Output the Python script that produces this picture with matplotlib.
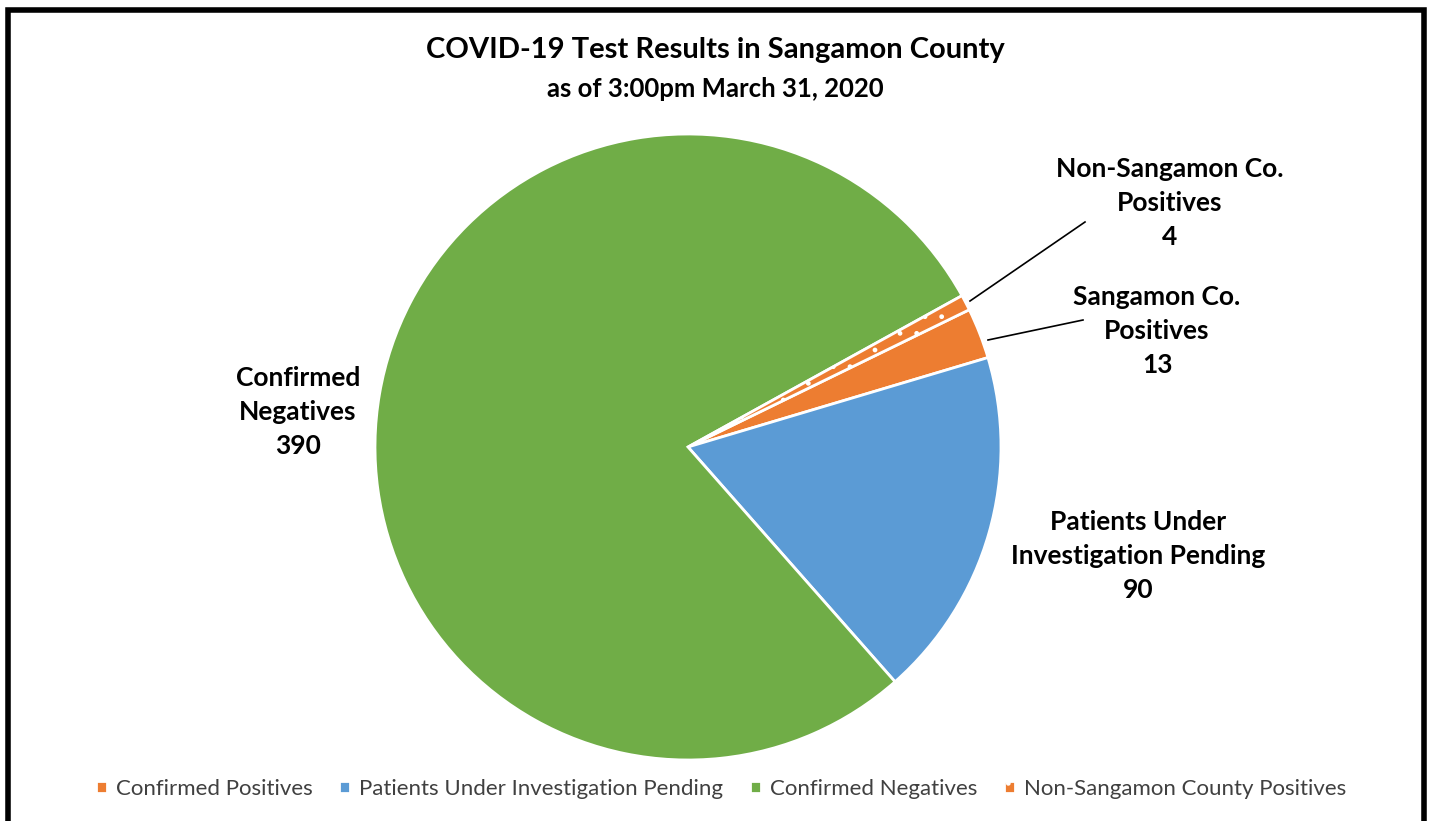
import matplotlib
matplotlib.use("Agg")
import matplotlib.pyplot as plt
from matplotlib.patches import Rectangle

categories = ["Confirmed Positives", "Patients Under Investigation Pending",
              "Confirmed Negatives", "Non-Sangamon County Positives"]
values = [13, 90, 390, 4]
colors = ["#ED7D31", "#5B9BD5", "#70AD47", "#ED7D31"]
slice_labels = ["Sangamon Co.\nPositives\n13",
                "Patients Under\nInvestigation Pending\n90",
                "Confirmed\nNegatives\n390",
                "Non-Sangamon Co.\nPositives\n4"]

plt.rcParams['font.family'] = ['Lato', 'DejaVu Sans']

W, H = 1430, 821
fig = plt.figure(figsize=(W / 100, H / 100), dpi=100)
ax = fig.add_axes([0, 0, 1, 1])

# border
fig.patches.append(Rectangle((8 / W, -0.02), (1424 - 8) / W, (H - 10) / H + 0.02,
                             transform=fig.transFigure, fill=False,
                             edgecolor='black', linewidth=4))

cx, cy, r = 688, H - 447, 313
total = sum(values)
start = 16.6 + values[0] / total * 360
wedges, _ = ax.pie(values, colors=colors, startangle=start, counterclock=False,
                   center=(cx, cy), radius=r, frame=True,
                   wedgeprops=dict(edgecolor='white', linewidth=2))
ax.set_xlim(0, W)
ax.set_ylim(0, H)
ax.set_aspect('equal')
ax.axis('off')
wedges[3].set_hatch('.')

# title
ax.text(715, H - 50, "COVID-19 Test Results in Sangamon County", ha='center', va='center',
        fontsize=21, fontweight='bold')
ax.text(715, H - 89, "as of 3:00pm March 31, 2020", ha='center', va='center',
        fontsize=18.5, fontweight='bold')

# data labels
lab_pos = [(1157, H - 331), (1138, H - 556), (298, H - 412), (1170, H - 203)]
for (x, y), t in zip(lab_pos, slice_labels):
    ax.text(x, y, t, ha='center', va='center', fontsize=19, fontweight='bold',
            linespacing=1.5)

# leader lines
ax.plot([970, 1085], [H - 301, H - 222], color='black', lw=1.2)
ax.plot([988, 1083], [H - 340, H - 320], color='black', lw=1.2)

leg = ax.legend(wedges, categories, loc='center', bbox_to_anchor=(721 / W, 1 - 789 / H),
                ncol=4, frameon=False, fontsize=16, handlelength=0.5, handleheight=0.5,
                handletextpad=0.4, columnspacing=1.2)
for t in leg.get_texts():
    t.set_color('#404040')

fig.savefig("out.png", dpi=100)
